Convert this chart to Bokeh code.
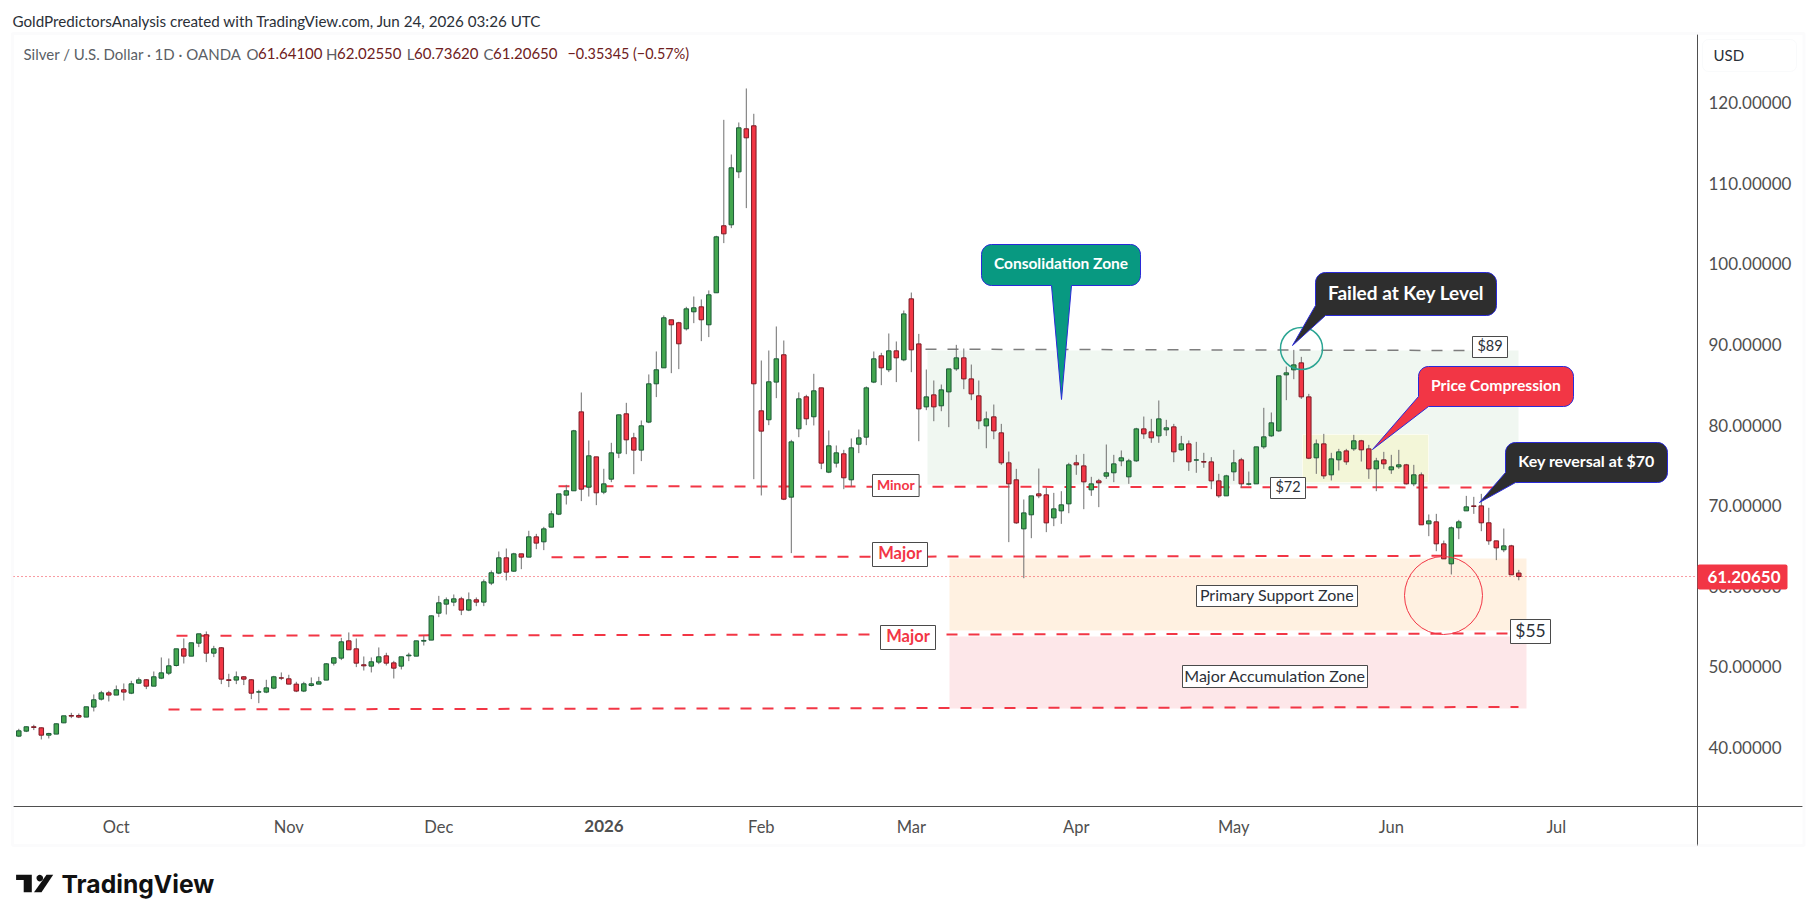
import numpy as np
from bokeh.core.properties import value
from bokeh.embed import file_html
from bokeh.models import (
    BoxAnnotation,
    ColumnDataSource,
    FixedTicker,
    Label,
    NumeralTickFormatter,
    PolyAnnotation,
    Range1d,
)
from bokeh.plotting import figure
from bokeh.resources import INLINE

# daily XAG/USD bars
opens = [
    41.41, 42.03, 42.57, 42.44, 41.53, 41.66, 43.06, 43.97, 43.97, 43.77,
    45.01, 46.00, 46.78, 46.50, 47.16, 46.74, 47.98, 48.40, 47.61, 48.60,
    49.22, 50.17, 52.24, 51.33, 52.94, 53.98, 51.70, 52.37, 48.40, 48.36,
    48.77, 48.40, 46.87, 46.87, 47.36, 48.64, 48.52, 47.86, 47.00, 47.69,
    47.86, 48.36, 50.46, 51.08, 53.23, 52.24, 50.26, 50.09, 50.59, 51.37,
    50.50, 50.09, 51.37, 51.33, 53.19, 53.32, 56.66, 57.78, 58.03, 58.44,
    57.04, 58.32, 58.03, 60.39, 61.63, 63.53, 61.87, 64.02, 63.61, 66.13,
    65.51, 67.33, 68.94, 71.30, 71.84, 81.63, 72.29, 76.05, 71.67, 73.28,
    76.51, 81.39, 78.41, 76.88, 80.36, 85.11, 87.09, 93.05, 92.68, 91.93,
    94.04, 94.66, 92.43, 96.40, 104.71, 104.83, 111.40, 116.74, 117.11, 81.76,
    80.65, 85.32, 88.71, 71.05, 79.53, 83.50, 81.02, 84.61, 74.15, 75.27,
    76.43, 73.20, 77.62, 78.49, 85.32, 88.58, 86.85, 89.20, 88.08, 95.65,
    90.06, 82.25, 83.74, 82.38, 84.11, 86.96, 88.33, 85.72, 83.62, 79.89,
    81.01, 79.03, 75.31, 73.20, 67.12, 68.86, 71.46, 71.34, 68.48, 69.35,
    70.22, 75.31, 74.93, 71.96, 73.07, 73.65, 74.07, 75.55, 73.57, 75.55,
    79.52, 79.15, 78.65, 79.40, 79.77, 76.92, 77.66, 75.64, 75.47, 75.43,
    73.07, 71.21, 74.19, 75.68, 72.66, 72.70, 77.29, 78.65, 79.27, 86.22,
    86.84, 87.71, 83.49, 75.93, 77.66, 73.82, 75.68, 76.79, 77.04, 78.04,
    77.04, 74.56, 75.68, 74.44, 74.81, 75.06, 72.70, 73.82, 67.74, 67.99,
    65.26, 62.78, 67.25, 69.35, 69.97, 69.97, 67.87, 65.63, 64.52, 65.01,
    61.641,
]
closes = [
    42.07, 42.57, 42.49, 41.53, 41.74, 42.94, 43.93, 43.89, 43.77, 45.05,
    45.92, 46.78, 46.50, 47.16, 46.87, 47.90, 48.40, 47.61, 48.77, 49.26,
    50.13, 52.24, 51.33, 52.99, 54.10, 51.70, 52.24, 48.48, 48.32, 48.77,
    48.48, 46.74, 46.91, 47.40, 48.77, 48.60, 47.86, 47.00, 47.90, 47.90,
    48.15, 50.38, 51.13, 53.11, 52.12, 50.46, 50.13, 50.63, 51.25, 50.46,
    49.84, 51.25, 51.46, 53.23, 53.28, 56.33, 57.95, 58.32, 58.44, 57.04,
    58.32, 58.03, 60.55, 61.67, 63.53, 61.75, 64.02, 63.61, 66.13, 65.35,
    67.12, 68.98, 71.46, 71.84, 79.28, 72.04, 76.18, 71.59, 72.70, 76.55,
    81.26, 78.16, 76.88, 79.90, 85.11, 86.85, 93.30, 92.43, 90.07, 94.41,
    94.54, 93.05, 96.15, 103.34, 103.71, 111.90, 116.86, 115.62, 85.11, 79.24,
    85.36, 88.21, 70.80, 77.91, 83.25, 80.77, 84.24, 75.27, 77.42, 76.55,
    73.45, 77.17, 78.41, 84.61, 88.21, 87.09, 89.20, 88.33, 93.78, 89.32,
    82.00, 83.49, 82.25, 84.36, 86.96, 88.33, 85.72, 83.86, 80.51, 80.76,
    79.27, 75.31, 72.70, 67.86, 69.10, 71.21, 71.21, 67.86, 69.60, 70.10,
    75.06, 75.06, 72.95, 72.70, 72.83, 74.07, 75.18, 75.93, 75.55, 79.52,
    78.90, 78.41, 80.76, 79.65, 76.67, 77.66, 75.43, 75.68, 75.39, 73.07,
    71.21, 73.69, 75.31, 72.70, 72.70, 77.29, 78.53, 80.27, 86.10, 86.47,
    87.46, 83.49, 75.88, 77.66, 73.69, 75.80, 76.67, 75.43, 78.04, 76.92,
    74.56, 75.55, 75.18, 74.81, 75.06, 72.70, 73.82, 67.62, 68.11, 65.26,
    63.40, 67.25, 67.99, 69.85, 69.89, 67.87, 65.63, 64.76, 65.01, 61.42,
    61.2065,
]
highs = [
    42.32, 42.61, 42.82, 42.49, 41.82, 42.98, 43.93, 44.30, 44.22, 45.05,
    46.58, 47.03, 47.03, 47.69, 47.94, 48.27, 48.69, 48.48, 49.43, 51.17,
    51.04, 52.24, 53.52, 52.99, 54.10, 54.39, 52.61, 52.45, 49.14, 49.43,
    48.85, 48.48, 47.16, 48.40, 48.89, 49.31, 49.02, 48.15, 48.15, 48.69,
    48.77, 50.46, 51.13, 53.60, 54.27, 53.52, 51.29, 51.17, 52.41, 51.75,
    50.75, 51.25, 51.75, 53.23, 53.90, 56.38, 58.81, 58.61, 58.98, 58.69,
    59.23, 58.61, 60.84, 61.96, 64.31, 64.68, 64.15, 64.02, 66.88, 66.50,
    67.37, 69.36, 71.46, 72.58, 79.40, 84.03, 78.08, 76.05, 74.57, 77.79,
    81.30, 82.75, 79.03, 80.56, 86.27, 89.12, 93.59, 93.05, 92.80, 94.66,
    95.94, 95.57, 96.69, 103.47, 117.85, 113.55, 117.52, 121.74, 118.60, 88.00,
    89.24, 92.22, 90.48, 78.16, 84.04, 83.75, 86.35, 84.61, 79.32, 77.46,
    76.92, 78.33, 79.44, 84.78, 89.12, 88.95, 91.35, 90.36, 94.20, 96.43,
    91.30, 86.88, 85.52, 85.02, 86.96, 89.94, 89.49, 87.50, 85.52, 81.67,
    82.54, 80.14, 76.71, 74.56, 70.76, 71.21, 74.60, 72.21, 71.58, 71.79,
    75.31, 76.30, 76.42, 73.57, 73.32, 77.58, 76.30, 76.84, 75.80, 79.65,
    81.05, 80.76, 83.04, 80.64, 80.14, 78.65, 78.08, 77.91, 76.55, 76.01,
    73.94, 73.82, 76.92, 75.93, 74.23, 77.29, 82.13, 81.55, 86.10, 87.25,
    89.32, 88.45, 83.86, 78.20, 78.90, 76.55, 77.04, 77.04, 78.78, 78.16,
    77.54, 75.93, 76.67, 76.30, 76.92, 75.18, 75.06, 74.11, 68.90, 68.98,
    65.67, 67.41, 68.24, 71.21, 71.09, 71.46, 69.73, 65.63, 67.16, 65.14,
    62.0255,
]
lows = [
    41.29, 41.91, 42.16, 41.00, 41.12, 41.66, 43.02, 43.64, 43.64, 43.77,
    44.47, 45.83, 45.71, 46.50, 45.83, 46.62, 47.90, 47.24, 47.61, 48.48,
    48.98, 50.05, 50.42, 51.33, 52.45, 50.59, 51.21, 47.86, 47.49, 47.86,
    47.74, 46.00, 45.50, 46.74, 47.24, 48.36, 47.86, 46.87, 46.87, 47.57,
    47.86, 48.36, 50.17, 50.84, 52.12, 49.97, 49.55, 49.31, 50.34, 50.17,
    48.56, 49.68, 50.71, 51.33, 52.65, 53.32, 56.17, 56.50, 57.53, 56.42,
    56.91, 57.53, 57.53, 60.14, 61.50, 60.72, 61.79, 62.12, 63.61, 64.60,
    64.48, 67.33, 68.82, 70.14, 71.84, 70.56, 71.13, 70.06, 71.42, 72.91,
    75.89, 76.38, 73.90, 75.52, 80.23, 83.46, 87.09, 86.43, 86.93, 91.72,
    92.63, 90.40, 90.90, 96.40, 102.56, 104.42, 110.62, 106.90, 73.28, 71.26,
    79.98, 83.33, 70.68, 64.11, 78.49, 79.98, 79.94, 74.52, 74.03, 74.73,
    72.04, 72.37, 76.51, 77.50, 85.19, 84.94, 86.56, 85.32, 87.91, 86.55,
    77.99, 81.84, 80.47, 81.71, 79.73, 86.72, 84.44, 83.08, 79.48, 77.12,
    78.24, 75.06, 65.47, 67.74, 61.00, 65.96, 70.92, 66.71, 67.45, 67.74,
    69.06, 73.82, 69.56, 71.21, 69.81, 73.32, 72.91, 74.89, 72.70, 75.43,
    78.28, 77.79, 77.79, 78.65, 75.39, 76.79, 74.31, 74.07, 74.69, 72.04,
    70.97, 71.21, 73.07, 72.21, 72.50, 72.70, 77.04, 78.53, 79.15, 83.08,
    85.68, 83.24, 75.76, 73.94, 73.32, 73.12, 74.36, 75.06, 76.79, 75.47,
    73.32, 71.79, 74.56, 73.94, 74.56, 72.62, 72.41, 67.62, 66.21, 64.35,
    63.40, 61.46, 65.84, 69.35, 68.98, 66.83, 65.14, 63.24, 64.23, 61.42,
    60.7362,
]

month_bars = [13, 36, 56, 78, 99, 119, 141, 162, 183, 205]
month_labels = ["Oct", "Nov", "Dec", "2026", "Feb", "Mar", "Apr", "May", "Jun", "Jul"]
price_ticks = [40, 50, 60, 70, 80, 90, 100, 110, 120]
last_price = 61.2065

FONT = "Lato"
RED = "#f23645"
TEAL = "#089981"
DARK = "#2e2e2e"
EDGE_BLUE = "#2a2ad8"
AXIS = "#4f4f4f"
W, H = 1810, 916


# annotation layout is taken in page pixels, this puts it on the chart's scales
def bx(px):
    return (np.asarray(px, dtype=float) - 18.3) / 7.5


def py(px):
    return 120 - (np.asarray(px, dtype=float) - 102) / 8.0625


# the frame fills the whole canvas, the axes are pinned where TradingView has them
# (annotations outside the frame get clipped)
p = figure(
    width=W,
    height=H,
    x_range=Range1d(float(bx(0)), float(bx(W))),
    y_range=Range1d(float(py(H)), float(py(0))),
    y_axis_location="right",
    output_backend="svg",
    toolbar_location=None,
    tools="",
    min_border=0,
    outline_line_color=None,
)
p.grid.visible = False

p.yaxis.fixed_location = float(bx(1697))
p.yaxis.bounds = (float(py(845)), float(py(34)))
p.yaxis.ticker = FixedTicker(ticks=price_ticks)
p.yaxis.formatter = NumeralTickFormatter(format="0.00000")
p.yaxis.major_label_text_font = FONT
p.yaxis.major_label_text_font_size = "17px"
p.yaxis.major_label_text_color = AXIS
p.yaxis.major_label_standoff = 5
p.yaxis.major_tick_line_color = None
p.yaxis.minor_tick_line_color = None
p.yaxis.axis_line_color = AXIS

p.xaxis.fixed_location = float(py(806))
p.xaxis.bounds = (float(bx(13)), float(bx(1802)))
p.xaxis.ticker = FixedTicker(ticks=month_bars)
p.xaxis.major_label_overrides = {
    b: ("" if t == "2026" else t) for b, t in zip(month_bars, month_labels)
}
p.xaxis.major_label_text_font = FONT
p.xaxis.major_label_text_font_size = "16.5px"
p.xaxis.major_label_text_color = AXIS
p.xaxis.major_label_standoff = 4
p.xaxis.major_tick_line_color = None
p.xaxis.minor_tick_line_color = None
p.xaxis.axis_line_color = AXIS


def zone(left, right, top, bottom, color, line=None):
    p.quad(left=bx(left), right=bx(right), top=py(top), bottom=py(bottom),
           fill_color=color, line_color=line)


zone(927, 1518, 350, 484, "#f0f7f1")
zone(1302, 1428, 434, 482, "#f3f6d8", line="#fbfcf0")
zone(949, 1526, 558, 630, "#fff1e1")
zone(949, 1526, 636, 708, "#fde7e9")


def level(x0, y0, x1, y1, color=RED, width=2):
    p.line(bx([x0, x1]), py([y0, y1]), line_color=color, line_width=width,
           line_dash="11 11")


level(925, 348.7, 1467, 350, color="#7d7d7d", width=1.5)
level(558, 485.7, 1493, 487)
level(551, 556.7, 1462, 555.3)
level(176, 635.3, 1510, 633)
level(168, 709, 1518, 706.5)

# last price line
p.line(bx([13, 1697]), [last_price, last_price], line_color=RED, line_width=1,
       line_dash="1 3")

bars = np.arange(len(closes))
src = ColumnDataSource(
    dict(
        x=bars,
        high=highs,
        low=lows,
        top=np.maximum(opens, closes),
        bottom=np.minimum(opens, closes),
        fill=[("#43a64f" if c >= o else RED) for o, c in zip(opens, closes)],
        edge=[("#1d5b38" if c >= o else "#7c1c26") for o, c in zip(opens, closes)],
    )
)
p.segment("x", "low", "x", "high", source=src, line_color="#6e6e6e", line_width=1)
p.vbar("x", width=0.6, top="top", bottom="bottom", source=src,
       fill_color="fill", line_color="edge", line_width=1)

p.scatter(bx([1301]), py([348]), size=42, fill_color=None, line_color="#2aa593",
          line_width=1.5)
p.scatter(bx([1443]), py([595]), size=78, fill_color=None, line_color=RED, line_width=1)


def arc(cx, cy, rad, a0, a1):
    t = np.radians(np.linspace(a0, a1, 7))
    return list(cx + rad * np.cos(t)), list(cy + rad * np.sin(t))


def callout(l, r, t, b, tail, color, text, size, bl_round=False, rad=10):
    ax0, ay0 = arc(l + rad, t + rad, rad, 180, 270)
    ax1, ay1 = arc(r - rad, t + rad, rad, 270, 360)
    ax2, ay2 = arc(r - rad, b - rad, rad, 0, 90)
    xs = ax0 + ax1 + ax2 + [q[0] for q in tail]
    ys = ay0 + ay1 + ay2 + [q[1] for q in tail]
    if bl_round:
        ax3, ay3 = arc(l + rad, b - rad, rad, 90, 180)
        xs += ax3
        ys += ay3
    p.patch(bx(xs), py(ys), fill_color=color, line_color=EDGE_BLUE, line_width=1)
    p.text(bx([(l + r) / 2]), py([(t + b) / 2 - 2]), text=[text], text_color="white",
           text_font=value(FONT), text_font_style="bold", text_font_size=size,
           text_align="center", text_baseline="middle")


callout(981, 1140, 244, 285, [(1071, 285), (1061, 399), (1051, 285)], TEAL,
        "Consolidation Zone", "15.5px", bl_round=True)
callout(1315, 1496, 272, 315, [(1325, 315), (1292, 345), (1315, 305)], DARK,
        "Failed at Key Level", "19px")
callout(1418, 1573, 366, 406, [(1428, 406), (1372, 449), (1418, 396)], RED,
        "Price Compression", "15.7px")
callout(1505, 1667, 442, 482, [(1515, 482), (1479, 502), (1505, 472)], DARK,
        "Key reversal at $70", "16px")


def tag(l, r, t, b, text, color, size, style="bold"):
    p.quad(left=bx(l), right=bx(r), top=py(t), bottom=py(b), fill_color="white",
           line_color="#4a4a4a", line_width=1)
    p.text(bx([(l + r) / 2]), py([(t + b) / 2 - 1.5]), text=[text], text_color=color,
           text_font=value(FONT), text_font_size=size, text_font_style=style,
           text_align="center", text_baseline="middle")


tag(872, 918.6, 474, 496, "Minor", RED, "14px")
tag(872, 927, 542, 566, "Major", RED, "16.5px")
tag(880, 935, 625, 649, "Major", RED, "16.5px")
tag(1270, 1305, 477, 498, "$72", "#2b3038", "14.5px", "normal")
tag(1472, 1507, 336, 357, "$89", "#2b3038", "14.5px", "normal")
tag(1510, 1550, 619, 643, "$55", "#2b3038", "17.5px", "normal")
tag(1196, 1357, 585, 606, "Primary Support Zone", "#2b3038", "16px", "normal")
tag(1182, 1367, 665, 687, "Major Accumulation Zone", "#2b3038", "16px", "normal")


def box(l, r, t, b, **kw):
    p.add_layout(BoxAnnotation(left=l, right=r, top=t, bottom=b,
                               left_units="canvas", right_units="canvas",
                               top_units="canvas", bottom_units="canvas", **kw))


def label(x, y, text, color, size, align="left", style="normal", font=FONT):
    p.add_layout(Label(x=x, y=y, x_units="canvas", y_units="canvas", text=text,
                       text_color=color, text_font=font, text_font_size=size,
                       text_font_style=style, text_align=align,
                       text_baseline="middle"))


box(12, 1803.5, 33, 845, fill_color=None, line_color="#f1f2f4", line_width=3)
box(1702, 1796, 39, 71, fill_color="white", fill_alpha=1, line_color="#eceef2",
    line_width=1, border_radius=6)
box(1697, 1787, 564, 589, fill_color=RED, fill_alpha=1, line_color=None, border_radius=2)

label(1713, 54, "USD", "#2b3038", "15px")
label(1743.5, 576, "61.20650", "white", "17px", align="center", style="bold")
label(603.5, 825, "2026", AXIS, "17px", align="center", style="bold")

label(12, 20, "GoldPredictorsAnalysis created with TradingView.com, Jun 24, 2026 03:26 UTC",
      "#2b3038", "15.2px")
label(23, 53, "Silver / U.S. Dollar · 1D · OANDA", "#5b5f66", "15px")
OHLC = "#6e2020"
label(258, 53, "O", "#5b5f66", "15px", align="right")
label(322, 53, "61.64100", OHLC, "15px", align="right")
label(337, 53, "H", "#5b5f66", "15px", align="right")
label(401, 53, "62.02550", OHLC, "15px", align="right")
label(414, 53, "L", "#5b5f66", "15px", align="right")
label(478, 53, "60.73620", OHLC, "15px", align="right")
label(493, 53, "C", "#5b5f66", "15px", align="right")
label(557, 53, "61.20650", OHLC, "15px", align="right")
label(567, 53, "−0.35345 (−0.57%)", OHLC, "14.4px")

# TradingView mark + wordmark
LOGO = "#111111"


def logo_poly(xs, ys):
    p.add_layout(PolyAnnotation(xs=list(xs), ys=list(ys), xs_units="canvas",
                                ys_units="canvas", fill_color=LOGO, fill_alpha=1,
                                line_color=None))


logo_poly([15.6, 31.3, 31.3, 23.2, 23.2, 15.6], [874.3, 874.3, 891.7, 891.7, 879.5, 879.5])
logo_poly([46, 52.7, 41, 33.5], [874.3, 874.3, 891.7, 891.7])
t = np.linspace(0, 2 * np.pi, 16)
logo_poly(39.3 + 3.3 * np.cos(t), 877.6 + 3.3 * np.sin(t))
label(61, 883, "TradingView", LOGO, "24.7px", font="Inter", style="bold")

open("out.html", "w").write(file_html(p, INLINE))
